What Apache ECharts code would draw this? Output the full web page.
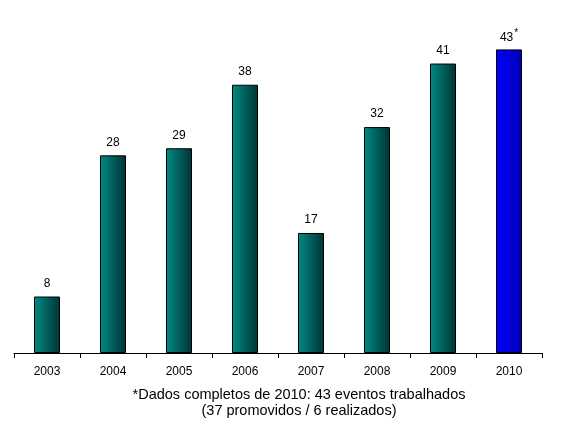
<!DOCTYPE html>
<html><head><meta charset="utf-8">
<script src="https://cdn.jsdelivr.net/npm/echarts@6/dist/echarts.min.js"></script>
<style>html,body{margin:0;padding:0;background:#fff}#c{width:564px;height:437px}</style>
</head><body><div id="c"></div>
<script>
const categories = ['2003','2004','2005','2006','2007','2008','2009','2010'];
const values = [8, 28, 29, 38, 17, 32, 41, 43];
const highlightIndex = 7;
const noteLines = ['*Dados completos de 2010: 43 eventos trabalhados', '(37 promovidos / 6 realizados)'];

const teal = new echarts.graphic.LinearGradient(0, 0, 1, 0, [
  {offset: 0, color: '#008a84'}, {offset: 1, color: '#003333'}]);
const blue = new echarts.graphic.LinearGradient(0, 0, 1, 0, [
  {offset: 0, color: '#0000ff'}, {offset: 1, color: '#0000b8'}]);

const chart = echarts.init(document.getElementById('c'));
chart.setOption({
  animation: false,
  textStyle: {fontFamily: 'Liberation Sans, Arial, sans-serif'},
  grid: {left: 14, right: 22, top: 0, bottom: 84},
  xAxis: {
    type: 'category', data: categories,
    axisLine: {lineStyle: {color: '#000', width: 1}},
    axisTick: {show: true, length: 5, lineStyle: {color: '#000'}},
    axisLabel: {color: '#000', fontSize: 12, margin: 13}
  },
  yAxis: {type: 'value', min: 0, max: 50, show: false},
  series: [{
    type: 'bar', barWidth: 26,
    data: values.map((v, i) => ({
      value: v,
      itemStyle: {color: i === highlightIndex ? blue : teal, borderColor: '#000', borderWidth: 1},
      label: i === highlightIndex ? {formatter: '{a|{c}}{s|*}', distance: 3} : {}
    })),
    label: {
      show: true, position: 'top', distance: 7, color: '#000', fontSize: 12,
      fontFamily: 'Liberation Sans, Arial, sans-serif',
      rich: {a: {fontSize: 12, color: '#000', fontFamily: 'Liberation Sans'},
             s: {fontSize: 10, color: '#000', verticalAlign: 'top', padding: [0,0,8,1], fontFamily: 'Liberation Sans'}}
    }
  }],
  graphic: [{
    type: 'text', x: 299, y: 387, z: 10,
    style: {text: noteLines.join('\n'), fill: '#000', font: '14.5px Liberation Sans', align: 'center', lineHeight: 16}
  }]
});
</script></body></html>
